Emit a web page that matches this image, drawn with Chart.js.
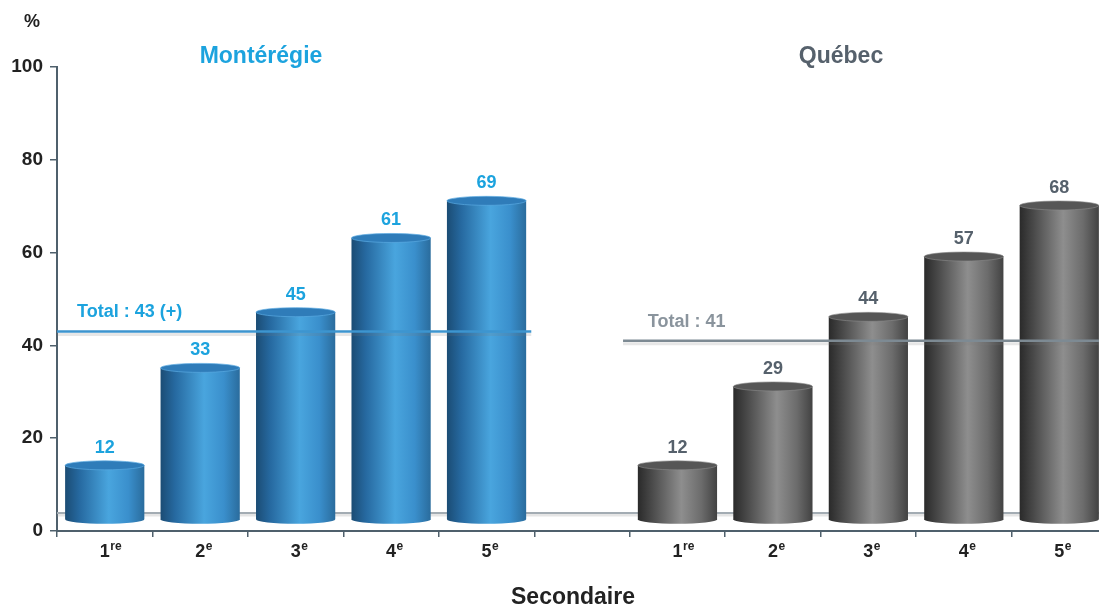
<!DOCTYPE html>
<html>
<head>
<meta charset="utf-8">
<script src="https://cdn.jsdelivr.net/npm/chart.js@4/dist/chart.umd.min.js"></script>
<style>
  html, body { margin: 0; padding: 0; background: #fff; overflow: hidden; }
  /* the axis runs a little past the right edge of the picture */
  #wrap { width: 1107px; height: 608px; }
</style>
</head>
<body>
<div id="wrap"><canvas id="chart"></canvas></div>
<script>
// data
const levels = ['1', '2', '3', '4', '5'];
const suffixes = ['re', 'e', 'e', 'e', 'e'];
const regions = ['Montérégie', 'Québec'];
const monteregie = [12, 33, 45, 61, 69];
const quebec = [12, 29, 44, 57, 68];
const totals = [43, 41];
const yTicks = [0, 20, 40, 60, 80, 100];

const FONT = "'Liberation Sans', Arial, sans-serif";
const BLUE = '#1ca3de';
const GREY_TXT = '#56616c';
const AXIS = '#4f606c';

// 5 categories, one empty slot, 5 categories
const labels = levels.concat([''], levels);
const gap = [null];
const blueData = monteregie.concat(gap, quebec.map(() => null));
const greyData = monteregie.map(() => null).concat(gap, quebec);

function cylGradient(ctx, x0, x1, stops) {
    const g = ctx.createLinearGradient(x0, 0, x1, 0);
    stops.forEach(s => g.addColorStop(s[0], s[1]));
    return g;
}

const blueStops = [[0, '#1b4c74'], [0.18, '#2669a0'], [0.55, '#49a5de'], [0.8, '#3a8fcc'], [1, '#2a6c9d']];
const greyStops = [[0, '#2a2a2a'], [0.18, '#4a4a4a'], [0.55, '#8e8e8e'], [0.8, '#6c6c6c'], [1, '#424242']];

const cylinders = {
    id: 'cylinders',
    beforeDatasetsDraw(chart) {
        // floor back edge
        const ctx = chart.ctx, a = chart.chartArea;
        const y = chart.scales.y.getPixelForValue(0) - 18;
        ctx.save();
        ctx.strokeStyle = 'rgba(150,150,150,0.25)';
        ctx.lineWidth = 3;
        ctx.beginPath(); ctx.moveTo(a.left, y + 2); ctx.lineTo(a.right, y + 2); ctx.stroke();
        ctx.strokeStyle = '#a3acb3';
        ctx.lineWidth = 2;
        ctx.beginPath(); ctx.moveTo(a.left, y); ctx.lineTo(a.right, y); ctx.stroke();
        ctx.restore();
    },
    afterDatasetsDraw(chart) {
        const ctx = chart.ctx, a = chart.chartArea;
        const xs = chart.scales.x, ys = chart.scales.y;
        const cell = xs.getPixelForValue(1) - xs.getPixelForValue(0);
        const ry = 4.5;

        chart.data.datasets.forEach((ds, di) => {
            const meta = chart.getDatasetMeta(di);
            const stops = di === 0 ? blueStops : greyStops;
            meta.data.forEach((bar, i) => {
                if (ds.data[i] == null) return;
                const w = bar.width, cx = bar.x;
                const x0 = cx - w / 2, x1 = cx + w / 2;
                const top = bar.y - 10, bot = bar.base - 11;
                ctx.save();
                ctx.beginPath();
                ctx.moveTo(x0, top);
                ctx.lineTo(x0, bot);
                ctx.ellipse(cx, bot, w / 2, ry, 0, Math.PI, 0, true);
                ctx.lineTo(x1, top);
                ctx.closePath();
                ctx.fillStyle = cylGradient(ctx, x0, x1, stops);
                ctx.fill();
                // top face
                ctx.beginPath();
                ctx.ellipse(cx, top, w / 2, ry, 0, 0, Math.PI * 2);
                ctx.fillStyle = di === 0 ? '#2f7cb9' : '#565656';
                ctx.fill();
                ctx.strokeStyle = di === 0 ? 'rgba(90,170,225,0.7)' : 'rgba(140,140,140,0.6)';
                ctx.lineWidth = 1;
                ctx.stroke();
                // value label
                ctx.font = 'bold 18px ' + FONT;
                ctx.fillStyle = di === 0 ? BLUE : GREY_TXT;
                ctx.textAlign = 'center';
                ctx.textBaseline = 'middle';
                ctx.fillText(String(ds.data[i]), cx, top - ry - 13);
                ctx.restore();
            });
        });

        // total lines
        const lines = [
            { v: totals[0], x0: a.left, x1: xs.getPixelForValue(4) + cell / 2 - 3, col: '#3d95cf', txt: '#1ca3de',
              label: 'Total : ' + totals[0] + ' (+)', lx: a.left + 20 },
            { v: totals[1], x0: xs.getPixelForValue(5) + cell * 0.43, x1: a.right, col: '#7d8a93', txt: '#8a949d',
              label: 'Total : ' + totals[1], lx: xs.getPixelForValue(5) + cell * 0.69 }
        ];
        lines.forEach(l => {
            const y = ys.getPixelForValue(l.v);
            ctx.save();
            ctx.strokeStyle = 'rgba(120,120,120,0.18)';
            ctx.lineWidth = 3;
            ctx.beginPath(); ctx.moveTo(l.x0, y + 3); ctx.lineTo(l.x1, y + 3); ctx.stroke();
            ctx.strokeStyle = l.col;
            ctx.lineWidth = 2.5;
            ctx.beginPath(); ctx.moveTo(l.x0, y); ctx.lineTo(l.x1, y); ctx.stroke();
            ctx.font = 'bold 18px ' + FONT;
            ctx.fillStyle = l.txt;
            ctx.textAlign = 'left';
            ctx.textBaseline = 'middle';
            ctx.fillText(l.label, l.lx, y - 19);
            ctx.restore();
        });
    },
    afterDraw(chart) {
        const ctx = chart.ctx, xs = chart.scales.x;
        ctx.save();
        // superscripts on the x labels
        const labelY = 552;
        labels.forEach((lab, i) => {
            if (!lab) return;
            const k = levels.indexOf(lab);
            ctx.font = 'bold 18px ' + FONT;
            const dw = ctx.measureText(lab).width;
            const x = xs.getPixelForValue(i) + dw / 2 + 0.5;
            ctx.font = 'bold 12px ' + FONT;
            ctx.fillStyle = '#222';
            ctx.textAlign = 'left';
            ctx.textBaseline = 'middle';
            ctx.fillText(suffixes[k], x, labelY - 5);
        });
        // region titles, unit and axis title
        ctx.textAlign = 'center';
        ctx.textBaseline = 'middle';
        ctx.font = 'bold 23px ' + FONT;
        ctx.fillStyle = BLUE;
        ctx.fillText(regions[0], 261, 57);
        ctx.fillStyle = GREY_TXT;
        ctx.fillText(regions[1], 841, 57);
        ctx.fillStyle = '#222';
        ctx.fillText('Secondaire', 573, 598);
        ctx.font = 'bold 18px ' + FONT;
        ctx.fillText('%', 32, 22);
        ctx.restore();
    }
};

new Chart(document.getElementById('chart'), {
    type: 'bar',
    data: {
        labels: labels,
        datasets: [
            { label: regions[0], data: blueData, backgroundColor: 'rgba(0,0,0,0)', borderWidth: 0 },
            { label: regions[1], data: greyData, backgroundColor: 'rgba(0,0,0,0)', borderWidth: 0 }
        ]
    },
    options: {
        responsive: true,
        maintainAspectRatio: false,
        animation: false,
        layout: { padding: { left: 0, top: 67, right: 0, bottom: 0 } },
        datasets: { bar: { grouped: false, barPercentage: 0.83, categoryPercentage: 1 } },
        plugins: { legend: { display: false }, tooltip: { enabled: false } },
        scales: {
            x: {
                afterFit: s => { s.height = 77; },
                grid: { display: true, drawOnChartArea: false, offset: true, tickLength: 6, color: AXIS, lineWidth: 1.5 },
                border: { color: AXIS, width: 2 },
                ticks: { color: '#222', padding: 4, font: { family: FONT, size: 18, weight: 'bold' }, maxRotation: 0, autoSkip: false }
            },
            y: {
                min: 0,
                max: 100,
                afterFit: s => { s.width = 57; },
                afterBuildTicks: s => { s.ticks = yTicks.map(v => ({ value: v })); },
                grid: { display: true, drawOnChartArea: false, tickLength: 7, color: AXIS, lineWidth: 1.5 },
                border: { color: AXIS, width: 2 },
                ticks: { color: '#222', padding: 7, font: { family: FONT, size: 19, weight: 'bold' } }
            }
        }
    },
    plugins: [cylinders]
});
</script>
</body>
</html>
